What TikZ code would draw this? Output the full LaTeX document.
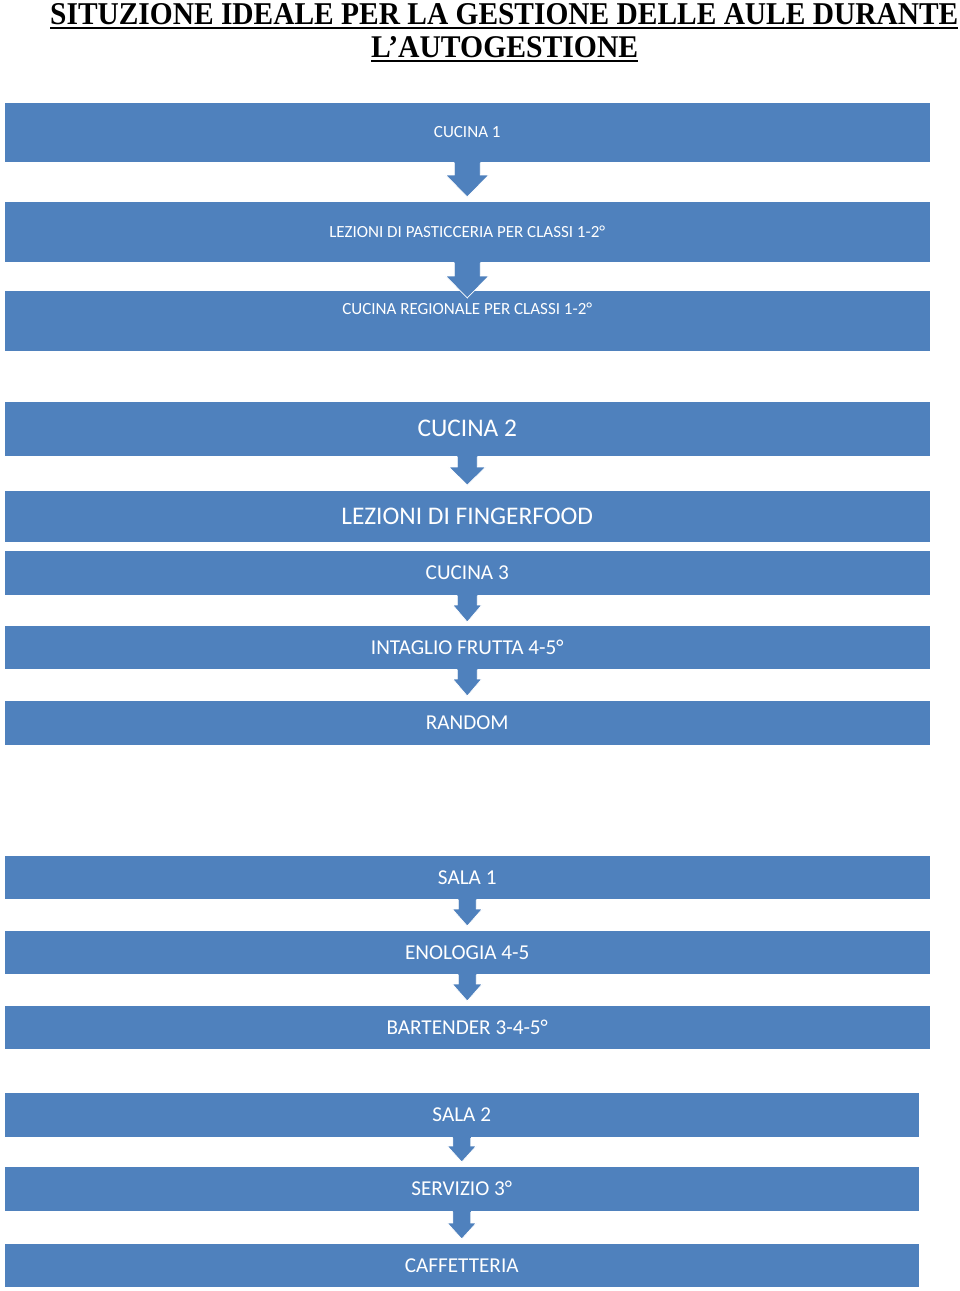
\documentclass[tikz,border=0pt]{standalone}
\usepackage{fontspec}
\setmainfont{Carlito}
\newfontfamily\titlefont{Liberation Serif}
\usetikzlibrary{calc}
\definecolor{boxblue}{RGB}{79,129,189}
% #1 from, #2 to, #3 shaft half width, #4 head half width, #5 head length, #6 tip gap above target top
\newcommand\flowarrow[6]{%
  \fill[boxblue] ($(#1.south)+(-#3,0.6)$) -- ($(#2.north)+(-#3,#6+#5)$) -- ($(#2.north)+(-#4,#6+#5)$)
     -- ($(#2.north)+(0,#6)$) -- ($(#2.north)+(#4,#6+#5)$) -- ($(#2.north)+(#3,#6+#5)$)
     -- ($(#1.south)+(#3,0.6)$) -- cycle;
  \draw[white,line width=0.7pt,line join=miter] ($(#1.south)+(-#3,-0.5)$) -- ($(#2.north)+(-#3,#6+#5)$) -- ($(#2.north)+(-#4,#6+#5)$)
     -- ($(#2.north)+(0,#6)$) -- ($(#2.north)+(#4,#6+#5)$) -- ($(#2.north)+(#3,#6+#5)$)
     -- ($(#1.south)+(#3,-0.5)$);
}
\begin{document}
\begin{tikzpicture}[x=1pt,y=1pt,
  box/.style={rectangle,fill=boxblue,draw=white,line width=0.5pt,inner sep=0pt,anchor=north west,
    text=white,minimum width=926pt},
  boxnarrow/.style={box,minimum width=915pt},
  fsmall/.style={font=\fontsize{17}{19}\selectfont},
  fbig/.style={font=\fontsize{25.4}{29}\selectfont},
  fmid/.style={font=\fontsize{21.2}{24}\selectfont},
  titletext/.style={inner sep=0pt,anchor=base west,font=\titlefont\bfseries}]
\useasboundingbox (0,0) rectangle (960,-1291);
% title
\node[titletext] (t1) at (50,-24) {\resizebox{908pt}{21pt}{SITUZIONE IDEALE PER LA GESTIONE DELLE AULE DURANTE}};
\node[titletext] (t2) at (371,-57) {\resizebox{267pt}{21pt}{L’AUTOGESTIONE}};
\fill (50,-26.8) rectangle (958,-29);
\fill (371,-60) rectangle (638,-62.2);
% boxes
\node[box,fsmall,minimum height=60pt] (b1) at (4,-102) {CUCINA 1};
\node[box,fsmall,minimum height=61pt] (b2) at (4,-201) {LEZIONI DI PASTICCERIA PER CLASSI 1-2°};
\node[box,fsmall,minimum height=61pt,text depth=25pt] (b3) at (4,-290) {CUCINA REGIONALE PER CLASSI 1-2°};
\node[box,fbig,minimum height=55pt] (b4) at (4,-401) {CUCINA 2};
\node[box,fbig,minimum height=52pt] (b5) at (4,-490) {LEZIONI DI FINGERFOOD};
\node[box,fmid,minimum height=45pt] (b6) at (4,-550) {CUCINA 3};
\node[box,fmid,minimum height=44pt] (b7) at (4,-625) {INTAGLIO FRUTTA 4-5°};
\node[box,fmid,minimum height=45pt] (b8) at (4,-700) {RANDOM};
\node[box,fmid,minimum height=44pt] (b9) at (4,-855) {SALA 1};
\node[box,fmid,minimum height=44pt] (b10) at (4,-930) {ENOLOGIA 4-5};
\node[box,fmid,minimum height=44pt] (b11) at (4,-1005) {BARTENDER 3-4-5°};
\node[boxnarrow,fmid,minimum height=45pt] (b12) at (4,-1092) {SALA 2};
\node[boxnarrow,fmid,minimum height=45pt] (b13) at (4,-1166) {SERVIZIO 3°};
\node[boxnarrow,fmid,minimum height=44pt] (b14) at (4,-1243) {CAFFETTERIA};
% arrows
\flowarrow{b1}{b2}{13}{21.5}{22}{4}
\flowarrow{b2}{b3}{13}{21.5}{22}{-8}
\flowarrow{b4}{b5}{10}{18.5}{18}{5}
\flowarrow{b6}{b7}{10}{14.5}{17}{3}
\flowarrow{b7}{b8}{10}{14.5}{17}{4}
\flowarrow{b9}{b10}{9}{15}{17}{4}
\flowarrow{b10}{b11}{9}{15}{17}{4}
\flowarrow{b12}{b13}{9}{14.5}{16}{4}
\flowarrow{b13}{b14}{9}{14.5}{16}{4}
\end{tikzpicture}
\end{document}
